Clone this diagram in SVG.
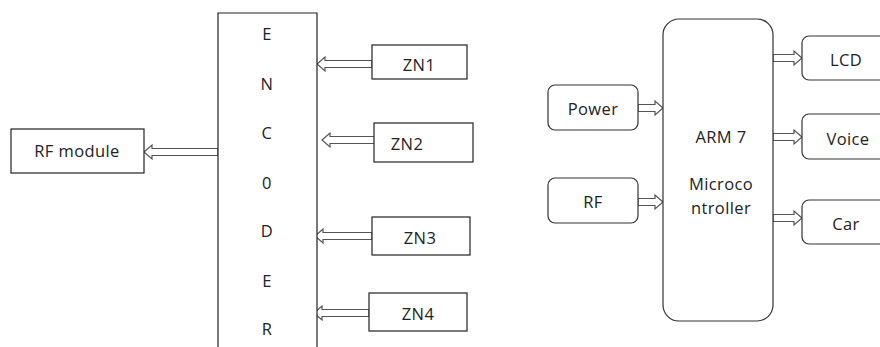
<svg xmlns="http://www.w3.org/2000/svg" width="880" height="347" viewBox="0 0 880 347">
<style>
.box{fill:#fff;stroke:#222;stroke-width:1.2}
.rbox{fill:#fff;stroke:#333;stroke-width:1.2}
.arr{fill:#fff;stroke:#555;stroke-width:1.2;stroke-linejoin:miter}
text{font-family:"Open Sans","Liberation Sans",sans-serif;font-size:16.5px;letter-spacing:0.4px;fill:#222;text-anchor:middle;dominant-baseline:central}
</style>
<rect width="880" height="347" fill="#fff"/>
<g id="connectors">
<polygon class="arr" points="144,152 152,145 152,148.5 218,148.5 218,155.5 152,155.5 152,159"/>
<polygon class="arr" points="317,64 325,57 325,60.5 372,60.5 372,67.5 325,67.5 325,71"/>
<polygon class="arr" points="322,140 330,133 330,136.5 377,136.5 377,143.5 330,143.5 330,147"/>
<polygon class="arr" points="315,236 323,229 323,232.5 372,232.5 372,239.5 323,239.5 323,243"/>
<polygon class="arr" points="314,313 322,306 322,309.5 369,309.5 369,316.5 322,316.5 322,320"/>
<polygon class="arr" points="663,108 655,101 655,104.5 638,104.5 638,111.5 655,111.5 655,115"/>
<polygon class="arr" points="663,202 655,195 655,198.5 638,198.5 638,205.5 655,205.5 655,209"/>
<polygon class="arr" points="802,58 794,51 794,54.5 773,54.5 773,61.5 794,61.5 794,65"/>
<polygon class="arr" points="802,137 794,130 794,133.5 773,133.5 773,140.5 794,140.5 794,144"/>
<polygon class="arr" points="802,218 794,211 794,214.5 773,214.5 773,221.5 794,221.5 794,225"/>
</g>
<g id="encoder">
<path class="box" d="M218,350 L218,13 L317,13 L317,350"/>
<text x="267" y="33">E</text>
<text x="267" y="83">N</text>
<text x="267" y="132">C</text>
<text x="267" y="182">0</text>
<text x="267" y="230">D</text>
<text x="267" y="280">E</text>
<text x="267" y="328">R</text>
</g>
<g id="rfmodule"><rect class="box" x="11" y="129" width="133" height="44"/><text x="77" y="150">RF module</text></g>
<g id="zn1"><rect class="box" x="372" y="45" width="95" height="34"/><text x="419" y="64">ZN1</text></g>
<g id="zn2"><rect class="box" x="374" y="123" width="99" height="39"/><text x="407" y="143">ZN2</text></g>
<g id="zn3"><rect class="box" x="372" y="217" width="98" height="38"/><text x="420" y="237">ZN3</text></g>
<g id="zn4"><rect class="box" x="369" y="293" width="98" height="38"/><text x="418" y="313">ZN4</text></g>
<g id="arm"><rect class="rbox" x="663" y="19" width="110" height="302" rx="16"/>
<text x="721" y="136">ARM 7</text><text x="721" y="183">Microco</text><text x="721" y="207">ntroller</text></g>
<g id="power"><rect class="rbox" x="548" y="85" width="90" height="45" rx="7"/><text x="593" y="108">Power</text></g>
<g id="rf"><rect class="rbox" x="548" y="178" width="90" height="45" rx="7"/><text x="593" y="201">RF</text></g>
<g id="lcd"><rect class="rbox" x="802" y="36" width="90" height="44" rx="7"/><text x="846" y="59">LCD</text></g>
<g id="voice"><rect class="rbox" x="802" y="114" width="90" height="45" rx="7"/><text x="848" y="138">Voice</text></g>
<g id="car"><rect class="rbox" x="802" y="200" width="90" height="44" rx="7"/><text x="846" y="223">Car</text></g>
</svg>
